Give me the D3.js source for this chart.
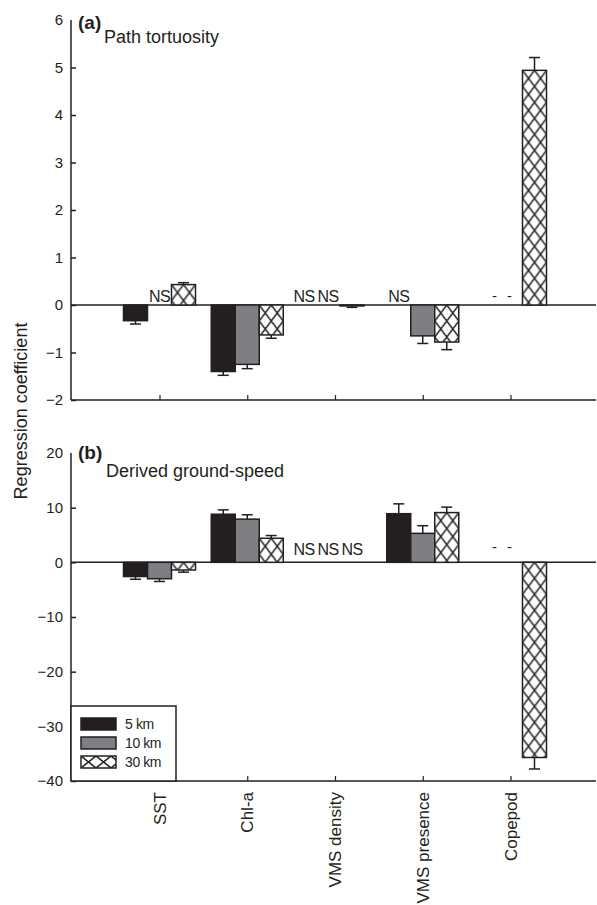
<!DOCTYPE html>
<html>
<head>
<meta charset="utf-8">
<script src="https://cdn.jsdelivr.net/npm/d3@7"></script>
<style>
  html, body { margin: 0; padding: 0; background: #fff; }
  svg { display: block; font-family: "Liberation Sans", Arial, Helvetica, sans-serif; }
</style>
</head>
<body>
<div id="chart"></div>
<script>
// ---------------- data ----------------
const categories = ["SST", "Chl-a", "VMS density", "VMS presence", "Copepod"];
const seriesNames = ["5 km", "10 km", "30 km"];

// Panel (a): Path tortuosity  ("NS" = not significant, "-" = not tested)
const tortuosity5km     = [-0.33, -1.40, "NS", "NS", "-"];
const tortuosity5kmErr  = [0.07, 0.08, 0, 0, 0];
const tortuosity10km    = ["NS", -1.25, "NS", -0.65, "-"];
const tortuosity10kmErr = [0, 0.09, 0, 0.16, 0];
const tortuosity30km    = [0.43, -0.63, -0.02, -0.78, 4.94];
const tortuosity30kmErr = [0.04, 0.07, 0.03, 0.16, 0.27];
const tortuosityTicks   = [6, 5, 4, 3, 2, 1, 0, -1, -2];

// Panel (b): Derived ground-speed
const speed5km     = [-2.6, 8.8, "NS", 8.9, "-"];
const speed5kmErr  = [0.5, 0.8, 0, 1.8, 0];
const speed10km    = [-3.0, 7.9, "NS", 5.3, "-"];
const speed10kmErr = [0.5, 0.8, 0, 1.4, 0];
const speed30km    = [-1.4, 4.4, "NS", 9.1, -35.7];
const speed30kmErr = [0.4, 0.5, 0, 1.0, 2.1];
const speedTicks   = [20, 10, 0, -10, -20, -30, -40];

// ---------------- layout ----------------
const W = 597, H = 905;
const axisX = 71, axisRight = 596;
const barW = 24;
const ink = "#231f20";
const fills = ["#231f20", "#7e7f82", "url(#HATCH)"];
const catShift = [0, 0, -7, 0, 0];

const svg = d3.select("#chart").append("svg")
  .attr("width", W).attr("height", H);
const defs = svg.append("defs");

const x = d3.scalePoint().domain(categories).range([159.5, 510.5]);

let patCount = 0;
function hatchPattern(px, py, cw, ch) {
  const id = "hatch" + (patCount++);
  const p = defs.append("pattern").attr("id", id)
    .attr("patternUnits", "userSpaceOnUse")
    .attr("x", px).attr("y", py).attr("width", cw).attr("height", ch);
  p.append("rect").attr("width", cw).attr("height", ch).attr("fill", "#fff");
  p.append("path")
    .attr("d", `M0,0L${cw},${ch}M${cw},0L0,${ch}M-1,${ch-1.33}L1,${ch+1.33}M${cw-1},-1.33L${cw+1},1.33`)
    .attr("stroke", ink).attr("stroke-width", 1.5).attr("fill", "none");
  return "url(#" + id + ")";
}

function drawPanel(cfg) {
  const y = d3.scaleLinear().domain(cfg.domain).range(cfg.range);
  const g = svg.append("g");
  const y0 = y(0);

  // zero line
  g.append("line").attr("x1", axisX).attr("x2", axisRight)
    .attr("y1", y0).attr("y2", y0)
    .attr("stroke", ink).attr("stroke-width", 1.5);

  cfg.series.forEach((s, si) => {
    s.values.forEach((v, ci) => {
      const cx = x(categories[ci]) + (si - 1) * barW + catShift[ci];
      if (typeof v === "number") {
        const top = Math.min(y(v), y0), hgt = Math.abs(y(v) - y0);
        let fill = fills[si];
        if (si === 2) fill = hatchPattern(cx - barW / 2, top, 12, 16);
        // error bar
        const e = s.err[ci];
        if (e > 0) {
          const ye = y(v + Math.sign(v) * e);
          g.append("line").attr("x1", cx).attr("x2", cx)
            .attr("y1", y(v)).attr("y2", ye).attr("stroke", ink).attr("stroke-width", 1.5);
          g.append("line").attr("x1", cx - 5.5).attr("x2", cx + 5.5)
            .attr("y1", ye).attr("y2", ye).attr("stroke", ink).attr("stroke-width", 1.5);
        }
        g.append("rect").attr("x", cx - barW / 2).attr("y", top)
          .attr("width", barW).attr("height", Math.max(hgt, 0.5))
          .attr("fill", fill).attr("stroke", ink).attr("stroke-width", 1.5);
      } else if (v === "NS") {
        g.append("text").attr("x", cx).attr("y", y0 - cfg.nsLift)
          .attr("text-anchor", "middle").attr("font-size", 16).attr("fill", ink)
          .attr("letter-spacing", -0.6).text("NS");
      } else {
        g.append("text").attr("x", cx + (si === 0 ? 8 : -1)).attr("y", y0 - cfg.dashLift)
          .attr("text-anchor", "middle").attr("font-size", 15).attr("fill", ink)
          .text("-");
      }
    });
  });

  // y axis
  const top = cfg.ticks[0];
  const ya = d3.axisLeft(y).tickValues(cfg.ticks.filter(t => t !== top))
    .tickSize(-5).tickSizeOuter(0).tickPadding(8);
  const yg = g.append("g").attr("transform", `translate(${axisX},0)`).call(ya);
  yg.select(".domain").remove();
  yg.selectAll("line").attr("stroke", ink).attr("stroke-width", 1.5);
  yg.selectAll("text").attr("font-size", 15).attr("fill", ink)
    .attr("font-family", "Liberation Sans, Arial, sans-serif");
  // top label without tick
  g.append("text").attr("x", axisX - 8).attr("y", y(top)).attr("dy", "0.32em")
    .attr("text-anchor", "end").attr("font-size", 15).attr("fill", ink).text(d3.format("")(top));
  g.append("line").attr("x1", axisX).attr("x2", axisX)
    .attr("y1", y(cfg.domain[1])).attr("y2", y(cfg.domain[0]))
    .attr("stroke", ink).attr("stroke-width", 1.5);

  // x axis
  const yb = y(cfg.domain[0]);
  const xa = d3.axisBottom(x).tickSize(-5).tickSizeOuter(0).tickFormat("");
  const xg = g.append("g").attr("transform", `translate(0,${yb})`).call(xa);
  xg.select(".domain").remove();
  xg.selectAll("line").attr("stroke", ink).attr("stroke-width", 1.2);
  g.append("line").attr("x1", axisX).attr("x2", axisRight)
    .attr("y1", yb).attr("y2", yb).attr("stroke", ink).attr("stroke-width", 1.5);

  // titles
  g.append("text").attr("x", 78).attr("y", cfg.letterY)
    .attr("font-size", 19).attr("font-weight", "bold").attr("fill", ink).text(cfg.letter);
  g.append("text").attr("x", cfg.titleX).attr("y", cfg.titleY)
    .attr("font-size", 18).attr("fill", ink).text(cfg.title);
  return { y, g };
}

drawPanel({
  domain: [-2, 6], range: [400, 20], ticks: tortuosityTicks,
  series: [
    { values: tortuosity5km, err: tortuosity5kmErr },
    { values: tortuosity10km, err: tortuosity10kmErr },
    { values: tortuosity30km, err: tortuosity30kmErr }
  ],
  nsLift: 3, dashLift: 4,
  letter: "(a)", letterY: 29, title: "Path tortuosity", titleX: 104, titleY: 43
});

drawPanel({
  domain: [-40, 20], range: [781, 453], ticks: speedTicks,
  series: [
    { values: speed5km, err: speed5kmErr },
    { values: speed10km, err: speed10kmErr },
    { values: speed30km, err: speed30kmErr }
  ],
  nsLift: 7, dashLift: 10,
  letter: "(b)", letterY: 459, title: "Derived ground-speed", titleX: 106, titleY: 477
});

// category labels
svg.append("g").selectAll("text").data(categories).join("text")
  .attr("transform", d => `translate(${x(d)},792) rotate(-90)`)
  .attr("dy", "0.36em").attr("text-anchor", "end")
  .attr("font-size", 17).attr("fill", ink).text(d => d);

// y axis title
svg.append("text").attr("transform", "translate(27,411) rotate(-90)")
  .attr("text-anchor", "middle").attr("font-size", 18).attr("fill", ink)
  .text("Regression coefficient");

// legend
const lg = svg.append("g");
lg.append("rect").attr("x", axisX).attr("y", 706).attr("width", 105).attr("height", 75)
  .attr("fill", "#fff").attr("stroke", ink).attr("stroke-width", 1.5);
seriesNames.forEach((name, i) => {
  const cy = 724 + i * 19;
  const fill = i === 2 ? hatchPattern(81, cy - 6, 15, 12) : fills[i];
  lg.append("rect").attr("x", 81).attr("y", cy - 6).attr("width", 35).attr("height", 12)
    .attr("fill", fill).attr("stroke", ink).attr("stroke-width", 1.5);
  lg.append("text").attr("x", 125).attr("y", cy + 5).attr("font-size", 14)
    .attr("letter-spacing", -0.4).attr("fill", ink).text(name);
});
</script>
</body>
</html>
